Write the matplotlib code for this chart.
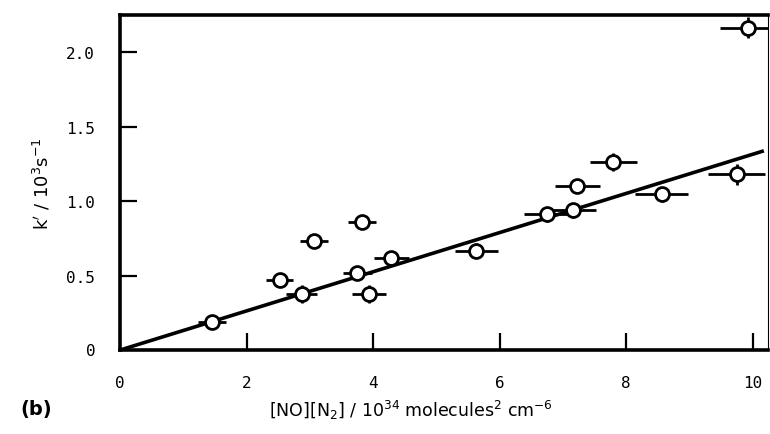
import matplotlib
matplotlib.use("Agg")
import matplotlib.pyplot as plt
import numpy as np

# data
conc = [1.45, 2.52, 2.87, 3.06, 3.75, 3.82, 3.94, 4.29, 5.63, 6.75, 7.16, 7.23, 7.80, 8.56, 9.75, 9.92]
kprime = [0.19, 0.47, 0.376, 0.73, 0.52, 0.857, 0.376, 0.62, 0.667, 0.913, 0.94, 1.10, 1.266, 1.047, 1.18, 2.166]
xerr = [0.22, 0.22, 0.25, 0.22, 0.23, 0.22, 0.27, 0.28, 0.34, 0.36, 0.36, 0.35, 0.37, 0.42, 0.45, 0.43]
yerr = [0.02, 0.02, 0.06, 0.02, 0.02, 0.02, 0.06, 0.04, 0.05, 0.05, 0.05, 0.03, 0.06, 0.05, 0.07, 0.07]
slope = 0.1315
fit_x = [0.0, 10.15]
xticks = [0, 2, 4, 6, 8, 10]
yticks = [0.5, 1.0, 1.5, 2.0]
ytick_labels = ["0.5", "1.0", "1.5", "2.0"]

fig = plt.figure(figsize=(7.7, 4.35), dpi=100)
ax = fig.add_axes([0.156, 0.193, 0.842, 0.770])

ax.plot(fit_x, [slope * v for v in fit_x], color="black", lw=2.6, zorder=2)
ax.errorbar(conc, kprime, xerr=xerr, yerr=yerr, fmt="o", ms=10, mfc="white",
            mec="black", mew=2.0, ecolor="black", elinewidth=2.0, capsize=0,
            zorder=3, clip_on=True)

ax.set_xlim(0, 10.25)
ax.set_ylim(0, 2.25)
ax.set_xticks(xticks)
ax.set_xticklabels([str(t) for t in xticks])
ax.set_yticks(yticks)
ax.set_yticklabels(ytick_labels)

for side in ["left", "bottom", "top"]:
    ax.spines[side].set_linewidth(2.6)
ax.spines["right"].set_linewidth(0.8)

ax.tick_params(direction="in", length=12, width=1.6,
               labelsize=11.5, labelfontfamily="DejaVu Sans Mono")
ax.tick_params(axis="x", pad=18)
ax.tick_params(axis="y", pad=18)

# zero label at the origin
fig.text(0.118, 1 - 352 / 435, "0", fontsize=11.5, family="DejaVu Sans Mono",
         ha="center", va="center")

ax.set_ylabel(r"k$'$ / 10$^3$s$^{-1}$", fontsize=13, labelpad=10)
fig.text(0.534, 1 - 410 / 435,
         r"[NO][N$_2$] / 10$^{34}$ molecules$^2$ cm$^{-6}$",
         fontsize=12.5, ha="center", va="center")
fig.text(0.026, 1 - 410 / 435, "(b)", fontsize=14, fontweight="bold",
         ha="left", va="center")

fig.savefig("out.png", dpi=100)
